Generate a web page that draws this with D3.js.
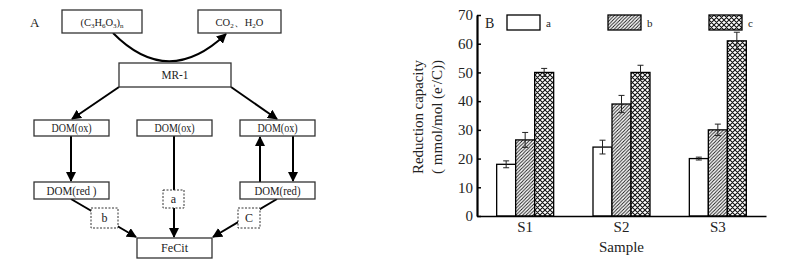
<!DOCTYPE html>
<html>
<head>
<meta charset="utf-8">
<script src="https://cdn.jsdelivr.net/npm/d3@7"></script>
<style>
  body { margin: 0; background: #fff; }
  svg { display: block; font-family: "Liberation Serif", "DejaVu Serif", serif; }
</style>
</head>
<body>
<div id="chart"></div>
<script>
// ---- Panel B data ----
const samples = ["S1", "S2", "S3"];
const seriesKeys = ["a", "b", "c"];
const valuesA = [18, 24, 20];
const valuesB = [26.5, 39, 30];
const valuesC = [50, 50, 61];
const errorsA = [1.2, 2.4, 0.5];
const errorsB = [2.6, 3, 2];
const errorsC = [1.4, 2.5, 3];
const yTicks = [0, 10, 20, 30, 40, 50, 60, 70];

// ---- Panel A labels ----
const nodeIds = ["lac", "co2", "mr1", "oxL", "oxM", "oxR", "redL", "redR", "fecit"];
const nodeLabels = ["(C3H6O3)n", "CO2、H2O", "MR-1", "DOM(ox)", "DOM(ox)", "DOM(ox)", "DOM(red )", "DOM(red)", "FeCit"];
const pathLabels = ["b", "a", "C"];

const W = 802, H = 269;
const svg = d3.select("#chart").append("svg")
    .attr("width", W)
    .attr("height", H);

const defs = svg.append("defs");

// arrow head
defs.append("marker")
    .attr("id", "arrow")
    .attr("viewBox", "0 0 10 10")
    .attr("refX", 9).attr("refY", 5)
    .attr("markerWidth", 5).attr("markerHeight", 5)
    .attr("markerUnits", "strokeWidth")
    .attr("orient", "auto")
  .append("path")
    .attr("d", "M0,0 L10,5 L0,10 z")
    .attr("fill", "#000");

// hatch patterns for the bars
const hatch = defs.append("pattern")
    .attr("id", "hatch-b")
    .attr("patternUnits", "userSpaceOnUse")
    .attr("width", 3.4).attr("height", 3.4);
hatch.append("rect").attr("width", 3.4).attr("height", 3.4).attr("fill", "#fff");
hatch.append("path")
    .attr("d", "M-1,1 L1,-1 M0,3.4 L3.4,0 M2.4,4.4 L4.4,2.4")
    .attr("stroke", "#111").attr("stroke-width", 0.9);

const cross = defs.append("pattern")
    .attr("id", "hatch-c")
    .attr("patternUnits", "userSpaceOnUse")
    .attr("width", 5).attr("height", 5);
cross.append("rect").attr("width", 5).attr("height", 5).attr("fill", "#fff");
cross.append("path")
    .attr("d", "M0,0 L5,5 M5,0 L0,5 M-1,1 L1,-1 M4,6 L6,4 M-1,4 L1,6 M4,-1 L6,1")
    .attr("stroke", "#111").attr("stroke-width", 1.1);

const fills = {a: "#fff", b: "url(#hatch-b)", c: "url(#hatch-c)"};

// =================== Panel A: diagram ===================
const gA = svg.append("g");

// layout of the boxes (x, y, w, h, label width)
const layout = {
  lac:   [62, 10, 80, 23, 0],
  co2:   [198, 10, 83, 23, 0],
  mr1:   [119, 63, 112, 24, 27],
  oxL:   [34, 120, 75, 16, 40],
  oxM:   [137, 120, 75, 16, 40],
  oxR:   [240, 120, 75, 16, 40],
  redL:  [34, 182, 75, 17, 50],
  redR:  [240, 182, 75, 17, 46],
  fecit: [137, 238, 75, 20, 27]
};

gA.append("text")
    .attr("x", 30).attr("y", 27)
    .attr("font-size", 13)
    .attr("fill", "#222")
    .text("A");

// connecting lines (drawn first, boxes on top)
const lines = [
  "M113,33 Q168,89 226,34",
  "M119,87 L72,119",
  "M231,87 L277,119",
  "M71,136 L71,181",
  "M174,136 L174,237",
  "M293,136 L293,181",
  "M260,182 L260,137",
  "M71,199 L136,237",
  "M277,199 L213,237"
];
gA.selectAll("path.link")
  .data(lines)
  .join("path")
    .attr("class", "link")
    .attr("d", d => d)
    .attr("fill", "none")
    .attr("stroke", "#000")
    .attr("stroke-width", 2)
    .attr("marker-end", "url(#arrow)");

// solid boxes
const nodes = nodeIds.map((id, i) => ({id, label: nodeLabels[i], box: layout[id]}));
const nodeG = gA.selectAll("g.node")
  .data(nodes)
  .join("g")
    .attr("class", "node");
nodeG.append("rect")
    .attr("x", d => d.box[0]).attr("y", d => d.box[1])
    .attr("width", d => d.box[2]).attr("height", d => d.box[3])
    .attr("fill", "#fff")
    .attr("stroke", "#333")
    .attr("stroke-width", 1.3);

// labels; chemical formulas get sub-scripts
nodeG.append("text")
    .attr("x", d => d.box[0] + d.box[2] / 2)
    .attr("y", d => d.box[1] + d.box[3] / 2 + 4)
    .attr("text-anchor", "middle")
    .attr("font-size", 12)
    .attr("fill", "#222")
    .each(function(d) {
      const t = d3.select(this);
      if (d.id === "lac" || d.id === "co2") {
        t.attr("font-size", 10.5);
        const parts = d.label.match(/\d+|n$|[^\dn]+|n/g);
        parts.forEach((p, i) => {
          const s = t.append("tspan").text(p);
          if (/^\d+$/.test(p) || (p === "n" && i === parts.length - 1)) {
            s.attr("font-size", 7).attr("baseline-shift", "-25%");
          }
        });
      } else {
        t.attr("textLength", d.box[4])
         .attr("lengthAdjust", "spacingAndGlyphs")
         .text(d.label);
      }
    });

// dashed label boxes on the paths to FeCit
const dashLayout = [[91, 208, 27, 20], [163, 190, 21, 18], [238, 208, 22, 20]];
const dashG = gA.selectAll("g.dash")
  .data(pathLabels)
  .join("g")
    .attr("class", "dash");
dashG.append("rect")
    .attr("x", (d, i) => dashLayout[i][0]).attr("y", (d, i) => dashLayout[i][1])
    .attr("width", (d, i) => dashLayout[i][2]).attr("height", (d, i) => dashLayout[i][3])
    .attr("fill", "#fff")
    .attr("stroke", "#333")
    .attr("stroke-width", 1)
    .attr("stroke-dasharray", "2,1.5");
dashG.append("text")
    .attr("x", (d, i) => dashLayout[i][0] + dashLayout[i][2] / 2)
    .attr("y", (d, i) => dashLayout[i][1] + dashLayout[i][3] / 2 + 4)
    .attr("text-anchor", "middle")
    .attr("font-size", 12)
    .attr("fill", "#222")
    .text(d => d);

// =================== Panel B: bar chart ===================
const plot = {left: 477, right: 766, top: 15, bottom: 216};

const x0 = d3.scaleBand()
    .domain(samples)
    .range([plot.left, plot.right]);
const groupW = 57;
const x1 = d3.scaleBand()
    .domain(seriesKeys)
    .range([(x0.bandwidth() - groupW) / 2, (x0.bandwidth() + groupW) / 2]);
const y = d3.scaleLinear()
    .domain([0, 70])
    .range([plot.bottom, plot.top]);

const seriesValues = {a: valuesA, b: valuesB, c: valuesC};
const seriesErrors = {a: errorsA, b: errorsB, c: errorsC};
const barData = [];
samples.forEach((s, i) => {
  seriesKeys.forEach(k => {
    barData.push({sample: s, key: k, value: seriesValues[k][i], err: seriesErrors[k][i]});
  });
});

const gB = svg.append("g");

// bars
gB.selectAll("rect.bar")
  .data(barData)
  .join("rect")
    .attr("class", "bar")
    .attr("x", d => x0(d.sample) + x1(d.key))
    .attr("y", d => y(d.value))
    .attr("width", x1.bandwidth())
    .attr("height", d => y(0) - y(d.value))
    .attr("fill", d => fills[d.key])
    .attr("stroke", "#000")
    .attr("stroke-width", 1.3);

// error bars
const eb = gB.selectAll("g.err")
  .data(barData)
  .join("g")
    .attr("class", "err")
    .attr("stroke", "#222")
    .attr("stroke-width", 1);
const cx = d => x0(d.sample) + x1(d.key) + x1.bandwidth() / 2;
eb.append("line")
    .attr("x1", cx).attr("x2", cx)
    .attr("y1", d => y(d.value - d.err)).attr("y2", d => y(d.value + d.err));
eb.append("line")
    .attr("x1", d => cx(d) - 3).attr("x2", d => cx(d) + 3)
    .attr("y1", d => y(d.value + d.err)).attr("y2", d => y(d.value + d.err));
eb.append("line")
    .attr("x1", d => cx(d) - 3).attr("x2", d => cx(d) + 3)
    .attr("y1", d => y(d.value - d.err)).attr("y2", d => y(d.value - d.err));

// y axis (ticks pointing inwards)
const yAxis = gB.append("g")
    .attr("transform", `translate(${plot.left},0)`)
    .call(d3.axisLeft(y).tickValues(yTicks).tickSizeInner(-4).tickSizeOuter(0).tickPadding(4))
    .attr("font-family", "Liberation Serif, serif")
    .attr("font-size", 15);
yAxis.select(".domain").attr("stroke-width", 2.2);
yAxis.selectAll(".tick line").attr("stroke-width", 1.5);
yAxis.selectAll("text").attr("fill", "#222");

// x axis
const xAxis = gB.append("g")
    .attr("transform", `translate(0,${plot.bottom})`)
    .call(d3.axisBottom(x0).tickSize(0).tickPadding(5))
    .attr("font-family", "Liberation Serif, serif")
    .attr("font-size", 15);
xAxis.select(".domain").attr("stroke-width", 1.5);
xAxis.selectAll("text").attr("fill", "#222");

// axis titles
gB.append("text")
    .attr("x", (plot.left + plot.right) / 2)
    .attr("y", 252)
    .attr("text-anchor", "middle")
    .attr("font-size", 15)
    .attr("fill", "#222")
    .text("Sample");

const yTitle = gB.append("text")
    .attr("transform", "translate(423,117) rotate(-90)")
    .attr("text-anchor", "middle")
    .attr("font-size", 15)
    .attr("fill", "#222");
yTitle.append("tspan")
    .attr("x", 0).attr("y", 0)
    .attr("textLength", 114).attr("lengthAdjust", "spacing")
    .text("Reduction  capacity");
const line2 = yTitle.append("tspan")
    .attr("x", 0).attr("y", 19);
line2.append("tspan").text("( mmol/mol (e");
line2.append("tspan").attr("font-size", 9).attr("baseline-shift", "super").text("-");
line2.append("tspan").text("/C))");

// panel letter and legend
gB.append("text")
    .attr("x", 485).attr("y", 28)
    .attr("font-size", 14)
    .attr("fill", "#222")
    .text("B");

const legendX = d3.scalePoint()
    .domain(seriesKeys)
    .range([507, 709]);
const leg = gB.selectAll("g.legend")
  .data(seriesKeys)
  .join("g")
    .attr("class", "legend")
    .attr("transform", d => `translate(${legendX(d)},15)`);
leg.append("rect")
    .attr("width", 33).attr("height", 15)
    .attr("fill", d => fills[d])
    .attr("stroke", "#000")
    .attr("stroke-width", 1.3);
leg.append("text")
    .attr("x", 39).attr("y", 12)
    .attr("font-size", 11)
    .attr("fill", "#222")
    .text(d => d);
</script>
</body>
</html>
